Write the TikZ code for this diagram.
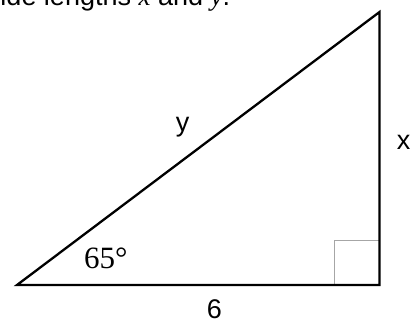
\documentclass[tikz,border=0pt]{standalone}
\usepackage{fontspec}
\setmainfont{Liberation Sans}
\newfontfamily\timesfont{Liberation Serif}
\begin{document}
\begin{tikzpicture}[x=1pt,y=1pt,
  side/.style={line width=2.3pt,line join=miter},
  rightmark/.style={draw=black!35,line width=1pt},
  lab/.style={inner sep=0pt,font=\fontsize{27}{30}\selectfont},
  ang/.style={inner sep=0pt,font=\timesfont\fontsize{31}{34}\selectfont}]
\useasboundingbox (0,0) rectangle (414,322);
\coordinate (A) at (17,37);
\coordinate (B) at (379.5,37);
\coordinate (C) at (379.5,310);
\coordinate (S) at (334,82);
\draw[rightmark] (S |- A) |- (B |- S);
\draw[side] (A) -- (B) -- (C) -- cycle;
\node[lab,anchor=base west] (title) at (0.3,316) {ide lengths {\timesfont\itshape x} and {\timesfont\itshape y}.};
\node[lab,anchor=base] (ly) at (182.5,190.5) {y};
\node[lab,anchor=base] (lx) at (403.5,173) {x};
\node[lab,anchor=base] (l6) at (214.5,4) {6};
\node[ang,anchor=base west] (la) at (84,54) {65°};
\end{tikzpicture}
\end{document}
